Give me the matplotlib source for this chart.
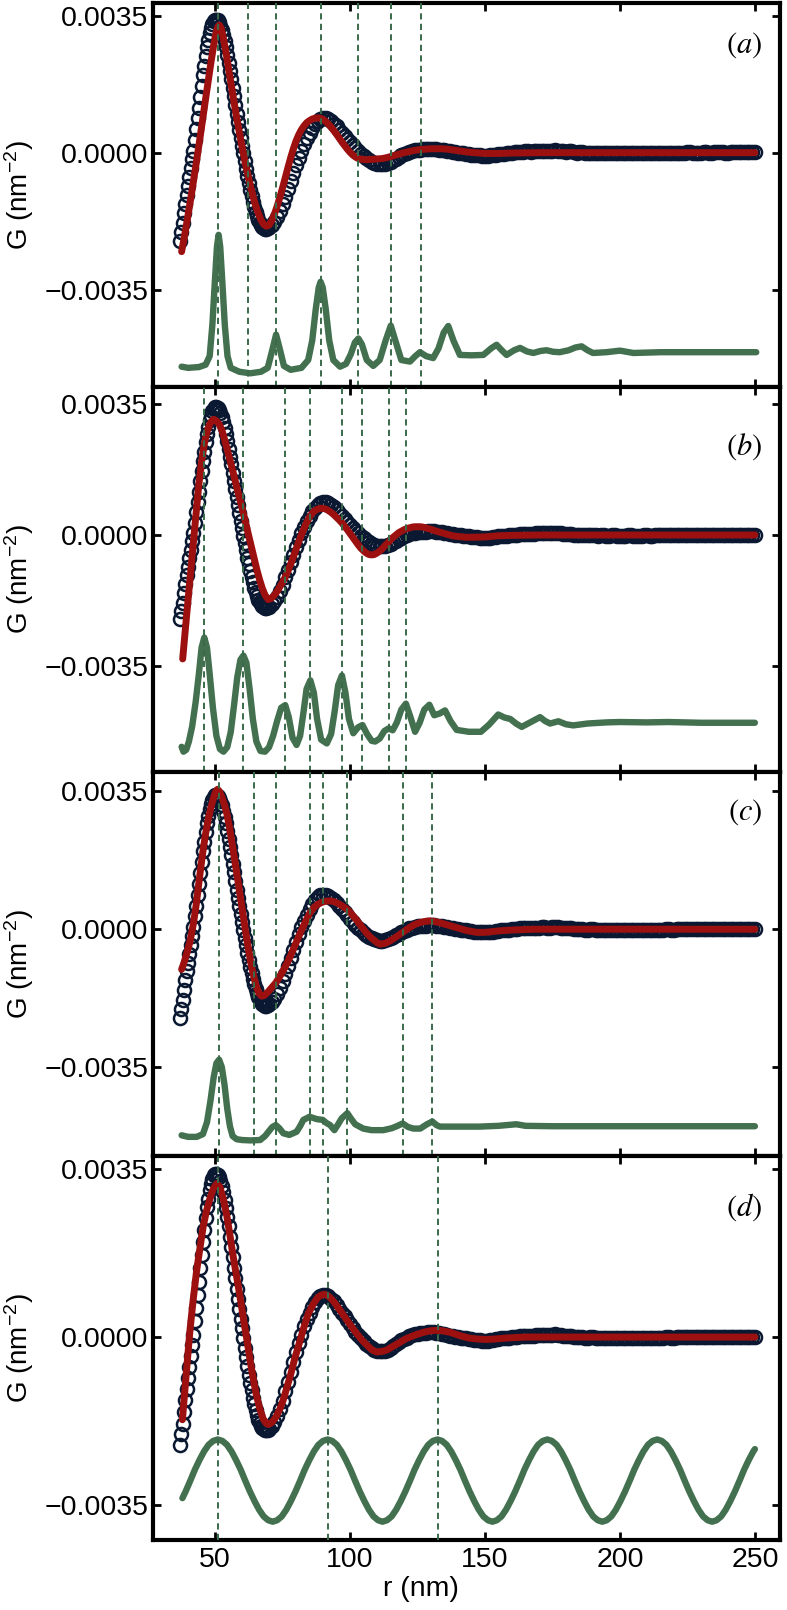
import numpy as np
import matplotlib.pyplot as plt

plt.rcParams["font.family"] = ["Liberation Sans", "DejaVu Sans"]
plt.rcParams["mathtext.fontset"] = "custom"
plt.rcParams["mathtext.rm"] = "Liberation Sans"
plt.rcParams["mathtext.it"] = "Liberation Sans:italic"

NAVY = "#0a1832"
RED = "#9c1010"
GREEN = "#43704f"
DASH = "#3a6a4a"
SCALE = 1e-3  # values below are in units of 1e-3 nm^-2

# measured G(r), same in all four panels
R_DATA = np.concatenate([np.arange(37.0, 70.01, 0.5),
                         np.arange(71.0, 250.01, 1.0)])
G_DATA = [
    -2.25, -2.02, -1.80, -1.55, -1.30, -1.07, -0.85, -0.62, -0.40, -0.17,
    0.05, 0.33, 0.60, 0.88, 1.15, 1.43, 1.70, 1.98, 2.22, 2.47,
    2.70, 2.88, 3.05, 3.18, 3.29, 3.36, 3.40, 3.40, 3.38, 3.33,
    3.25, 3.14, 3.01, 2.86, 2.69, 2.50, 2.30, 2.09, 1.88, 1.66,
    1.44, 1.22, 1.00, 0.79, 0.58, 0.38, 0.18, -0.02, -0.22, -0.41,
    -0.60, -0.78, -0.95, -1.11, -1.26, -1.40, -1.52, -1.63, -1.72, -1.79,
    -1.85, -1.89, -1.92, -1.94, -1.94, -1.93, -1.91,
    # 71 .. 140
    -1.85, -1.76, -1.64, -1.49, -1.32, -1.13, -0.93, -0.72, -0.52, -0.32,
    -0.13, 0.05, 0.22, 0.37, 0.51, 0.63, 0.73, 0.81, 0.86, 0.88,
    0.88, 0.85, 0.80, 0.74, 0.67, 0.59, 0.51, 0.43, 0.35, 0.27,
    0.19, 0.11, 0.04, -0.03, -0.09, -0.14, -0.19, -0.23, -0.26, -0.28,
    -0.29, -0.29, -0.28, -0.26, -0.23, -0.19, -0.15, -0.11, -0.07, -0.04,
    -0.01, 0.02, 0.04, 0.06, 0.07, 0.08, 0.09, 0.09, 0.10, 0.10,
    0.10, 0.09, 0.08, 0.07, 0.06, 0.05, 0.03, 0.02, 0.01, 0.00,
    # 141 .. 250
    -0.01, -0.02, -0.03, -0.04, -0.05, -0.06, -0.06, -0.07, -0.08, -0.08,
    -0.08, -0.07, -0.06, -0.05, -0.04, -0.03, -0.03, -0.02, -0.01, 0.00,
    0.01, 0.01, 0.02, 0.02, 0.03, 0.03, 0.02, 0.03, 0.04, 0.04,
    0.05, 0.05, 0.04, 0.04, 0.05, 0.06, 0.05, 0.04, 0.03, 0.02,
    0.03, 0.03, 0.01, 0.00, 0.01, 0.01, -0.01, -0.01, 0.00, 0.00,
    -0.01, -0.02, -0.01, -0.01, -0.02, -0.02, -0.01, -0.01, -0.02, -0.02,
    -0.02, -0.02, -0.01, -0.01, -0.02, -0.02, -0.02, -0.02, -0.01, -0.01,
    -0.02, -0.02, -0.01, -0.01, -0.01, -0.01, 0.00, 0.00, -0.01, -0.01,
    0.00, 0.00, 0.00, 0.00, 0.01, 0.01, 0.00, 0.00, 0.00, 0.00,
    0.01, 0.01, 0.00, 0.00, 0.01, 0.01, 0.01, 0.01, 0.00, 0.00,
    0.01, 0.01, 0.01, 0.01, 0.01, 0.01, 0.01, 0.01, 0.01, 0.01,
]

# fitted curves (r, G)
FIT_A = [
    (37.6, -2.53), (38.5, -2.20), (39.5, -1.80), (40.5, -1.38), (41.5, -0.95),
    (42.5, -0.50), (43.5, -0.05), (44.5, 0.42), (45.5, 0.90), (46.5, 1.38),
    (47.5, 1.85), (48.5, 2.32), (49.5, 2.75), (50.3, 3.05), (51.0, 3.22),
    (51.6, 3.26), (52.3, 3.18), (53.0, 2.95), (54.0, 2.58), (55.0, 2.15),
    (56.0, 1.72), (57.0, 1.30), (58.0, 0.90), (59.0, 0.52), (60.0, 0.15),
    (61.0, -0.20), (62.0, -0.52), (63.0, -0.82), (64.0, -1.10), (65.0, -1.35),
    (66.0, -1.55), (67.0, -1.72), (68.0, -1.83), (69.0, -1.88), (70.0, -1.85),
    (71.0, -1.74), (72.0, -1.57), (73.0, -1.37), (74.0, -1.14), (75.0, -0.90),
    (76.0, -0.64), (77.0, -0.38), (78.0, -0.13), (79.0, 0.10), (80.0, 0.30),
    (81.0, 0.46), (82.0, 0.59), (83.0, 0.69), (84.0, 0.77), (85.0, 0.82),
    (86.0, 0.86), (87.0, 0.88), (88.0, 0.89), (89.0, 0.88), (90.0, 0.85),
    (91.0, 0.80), (92.0, 0.73), (93.0, 0.65), (94.0, 0.56), (95.0, 0.47),
    (96.0, 0.37), (97.0, 0.27), (98.0, 0.18), (99.0, 0.09), (100.0, 0.01),
    (101.0, -0.06), (102.0, -0.11), (103.0, -0.15), (104.5, -0.17), (106.0, -0.18),
    (108.0, -0.17), (110.0, -0.16), (112.0, -0.15), (114.0, -0.12), (116.0, -0.08),
    (118.0, -0.04), (120.0, 0.00), (122.0, 0.03), (124.0, 0.06), (126.0, 0.08),
    (128.0, 0.09), (130.0, 0.10), (132.0, 0.10), (134.0, 0.10), (136.0, 0.09),
    (138.0, 0.07), (140.0, 0.05), (143.0, 0.02), (146.0, 0.00), (150.0, -0.02),
    (155.0, -0.02), (160.0, -0.01), (170.0, 0.00), (200.0, 0.00), (250.0, 0.00),
]
FIT_B = [
    (38.0, -3.30), (39.0, -2.50), (40.0, -1.72), (41.0, -0.95), (42.0, -0.17),
    (43.0, 0.60), (44.0, 1.35), (45.0, 1.95), (46.0, 2.42), (47.0, 2.75),
    (48.0, 2.95), (49.0, 3.06), (49.6, 3.08), (50.5, 3.04), (51.5, 2.95),
    (52.5, 2.80), (53.5, 2.55), (54.5, 2.28), (55.5, 2.00), (56.5, 1.72),
    (57.5, 1.43), (58.5, 1.14), (59.5, 0.86), (60.5, 0.57), (61.5, 0.27),
    (62.5, -0.03), (63.5, -0.33), (64.5, -0.63), (65.5, -0.93), (66.5, -1.19),
    (67.5, -1.42), (68.5, -1.60), (69.7, -1.72), (70.8, -1.69), (72.0, -1.60),
    (73.0, -1.50), (74.0, -1.38), (75.0, -1.26), (76.0, -1.12), (77.0, -0.96),
    (78.0, -0.78), (79.0, -0.58), (80.0, -0.38), (81.0, -0.18), (82.0, 0.01),
    (83.0, 0.18), (84.0, 0.34), (85.0, 0.48), (86.0, 0.58), (87.0, 0.65),
    (88.0, 0.69), (89.0, 0.71), (90.0, 0.71), (91.0, 0.69), (92.0, 0.65),
    (93.0, 0.60), (94.0, 0.54), (95.0, 0.47), (96.0, 0.40), (97.0, 0.32),
    (98.0, 0.23), (99.0, 0.14), (100.0, 0.04), (101.0, -0.06), (102.0, -0.16),
    (103.0, -0.26), (104.0, -0.35), (105.0, -0.42), (106.0, -0.48), (107.0, -0.52),
    (108.0, -0.53), (109.0, -0.52), (110.0, -0.48), (111.0, -0.43), (112.0, -0.36),
    (113.0, -0.28), (114.0, -0.21), (115.0, -0.13), (116.0, -0.06), (117.0, 0.00),
    (118.0, 0.06), (119.0, 0.10), (120.0, 0.14), (121.0, 0.17), (122.0, 0.19),
    (123.0, 0.21), (124.0, 0.22), (125.0, 0.22), (126.0, 0.22), (127.0, 0.21),
    (128.0, 0.19), (130.0, 0.15), (132.0, 0.10), (134.0, 0.06), (136.0, 0.02),
    (138.0, -0.02), (140.0, -0.04), (143.0, -0.06), (146.0, -0.06), (150.0, -0.05),
    (155.0, -0.02), (160.0, -0.01), (170.0, 0.00), (200.0, 0.00), (250.0, 0.00),
]
FIT_C = [
    (37.6, -1.02), (38.5, -0.85), (39.5, -0.62), (40.7, -0.32), (42.0, 0.15),
    (43.0, 0.62), (44.4, 1.40), (45.5, 1.98), (46.5, 2.43), (47.5, 2.80),
    (48.5, 3.10), (49.5, 3.35), (50.3, 3.50), (50.9, 3.55), (51.6, 3.50),
    (52.5, 3.35), (53.5, 3.15), (54.3, 2.95), (55.3, 2.60), (56.3, 2.18),
    (57.3, 1.75), (58.3, 1.30), (59.3, 0.85), (60.3, 0.40), (61.3, -0.05),
    (62.3, -0.48), (63.3, -0.87), (64.4, -1.22), (65.4, -1.48), (66.4, -1.64),
    (67.3, -1.70), (68.3, -1.68), (69.5, -1.60), (70.5, -1.52), (71.5, -1.44),
    (72.5, -1.36), (73.5, -1.25), (75.0, -1.08), (77.0, -0.82), (79.0, -0.51),
    (81.0, -0.18), (83.0, 0.12), (85.0, 0.40), (86.5, 0.54), (88.0, 0.63),
    (89.5, 0.68), (91.0, 0.71), (92.6, 0.72), (94.0, 0.70), (96.0, 0.64),
    (98.0, 0.55), (99.0, 0.50), (100.0, 0.43), (102.0, 0.27), (104.0, 0.09),
    (105.0, 0.00), (106.0, -0.09), (108.0, -0.23), (110.0, -0.34), (111.1, -0.38),
    (113.0, -0.36), (115.0, -0.29), (117.0, -0.20), (119.5, -0.08), (122.0, 0.04),
    (124.0, 0.12), (126.0, 0.17), (128.0, 0.20), (129.6, 0.21), (131.0, 0.20),
    (133.0, 0.17), (135.0, 0.13), (137.0, 0.09), (140.0, 0.03), (143.0, -0.03),
    (146.9, -0.08), (150.0, -0.08), (155.6, -0.04), (160.0, -0.02), (168.0, 0.00),
    (200.0, 0.00), (250.0, 0.00),
]
FIT_D = [
    (37.9, -1.72), (38.9, -1.05), (39.8, -0.45), (40.7, 0.14), (41.9, 0.78),
    (43.1, 1.35), (44.4, 1.85), (45.6, 2.30), (46.8, 2.62), (48.1, 2.88),
    (49.3, 3.08), (50.6, 3.19), (51.8, 3.12), (53.0, 2.88), (54.3, 2.54),
    (55.5, 2.12), (56.7, 1.68), (58.0, 1.25), (59.3, 0.82), (60.5, 0.38),
    (61.8, -0.06), (63.0, -0.49), (64.2, -0.89), (65.4, -1.23), (66.6, -1.50),
    (67.8, -1.70), (69.0, -1.80), (69.8, -1.82), (71.0, -1.78), (72.5, -1.67),
    (74.0, -1.50), (75.3, -1.30), (76.5, -1.07), (78.0, -0.78), (79.5, -0.45),
    (81.5, -0.07), (83.0, 0.22), (84.5, 0.48), (86.4, 0.69), (88.0, 0.82),
    (89.2, 0.87), (90.4, 0.89), (91.8, 0.86), (93.2, 0.79), (94.6, 0.69),
    (96.5, 0.54), (98.5, 0.38), (100.5, 0.22), (102.5, 0.07), (104.5, -0.07),
    (106.5, -0.18), (108.2, -0.27), (109.9, -0.31), (111.8, -0.30), (113.6, -0.27),
    (116.0, -0.19), (118.5, -0.11), (120.5, -0.04), (122.2, 0.00), (125.0, 0.06),
    (128.0, 0.11), (130.0, 0.13), (132.1, 0.14), (134.0, 0.13), (137.0, 0.10),
    (140.7, 0.03), (144.0, -0.02), (147.0, -0.04), (150.6, -0.05), (154.0, -0.04),
    (158.0, -0.02), (165.0, 0.00), (200.0, 0.00), (250.0, 0.00),
]

# lower (green) distribution curves (r, value)
DIST_A = [
    (37.6, -5.47), (40.0, -5.50), (44.0, -5.48), (46.5, -5.42), (48.0, -5.20),
    (49.0, -4.40), (50.0, -3.20), (50.7, -2.40), (51.3, -2.10), (51.9, -2.40),
    (52.6, -3.20), (53.6, -4.40), (54.6, -5.20), (55.8, -5.50), (59.0, -5.60),
    (63.0, -5.64), (67.0, -5.60), (69.5, -5.50), (71.0, -5.10), (72.6, -4.65),
    (74.1, -5.05), (75.5, -5.45), (78.0, -5.55), (82.0, -5.50), (84.5, -5.30),
    (86.0, -4.80), (87.3, -4.00), (88.4, -3.45), (89.1, -3.30), (89.9, -3.45),
    (91.0, -4.00), (92.3, -4.80), (93.8, -5.30), (96.3, -5.47), (98.5, -5.40),
    (100.3, -5.15), (101.8, -4.85), (103.1, -4.75), (104.4, -4.90), (106.2, -5.30),
    (108.6, -5.45), (111.0, -5.30), (113.2, -4.80), (115.1, -4.42), (117.0, -4.85),
    (119.0, -5.30), (122.2, -5.34), (124.2, -5.20), (125.9, -5.10), (128.2, -5.20),
    (130.8, -5.25), (132.8, -5.00), (134.7, -4.60), (136.4, -4.43), (138.3, -4.80),
    (140.7, -5.17), (145.0, -5.18), (149.4, -5.17), (152.3, -5.00), (154.3, -4.91),
    (156.2, -5.05), (158.0, -5.17), (160.8, -5.05), (163.0, -4.99), (165.5, -5.08),
    (167.9, -5.12), (170.5, -5.07), (172.8, -5.05), (175.3, -5.09), (177.7, -5.10),
    (181.0, -5.05), (183.5, -4.98), (185.8, -4.95), (188.0, -5.05), (190.0, -5.12),
    (195.0, -5.10), (200.0, -5.06), (205.0, -5.12), (215.0, -5.10), (230.0, -5.10),
    (250.5, -5.10),
]
DIST_B = [
    (37.6, -5.64), (38.3, -5.77), (39.3, -5.72), (40.3, -5.50), (41.5, -5.10),
    (42.8, -4.45), (44.0, -3.70), (45.0, -3.00), (46.0, -2.73), (47.0, -3.00),
    (48.0, -3.70), (49.2, -4.60), (50.5, -5.35), (51.8, -5.70), (53.1, -5.77),
    (54.5, -5.65), (55.8, -5.25), (57.0, -4.55), (58.2, -3.80), (59.4, -3.32),
    (60.5, -3.21), (61.6, -3.40), (62.8, -4.10), (64.0, -4.90), (65.3, -5.50),
    (66.8, -5.75), (68.5, -5.77), (70.0, -5.65), (71.5, -5.35), (73.0, -4.95),
    (74.5, -4.60), (76.0, -4.53), (77.3, -4.85), (78.7, -5.40), (80.2, -5.59),
    (81.5, -5.35), (82.7, -4.75), (83.9, -4.10), (85.3, -3.87), (86.6, -4.20),
    (87.8, -4.90), (89.3, -5.45), (91.4, -5.55), (93.0, -5.30), (94.3, -4.70),
    (95.6, -4.00), (97.0, -3.74), (98.3, -4.20), (99.6, -4.90), (101.2, -5.28),
    (103.0, -5.12), (104.6, -5.06), (106.3, -5.30), (108.0, -5.48), (109.3, -5.50),
    (111.0, -5.42), (112.7, -5.22), (114.3, -5.15), (115.8, -5.20), (117.3, -5.00),
    (119.0, -4.65), (120.7, -4.49), (122.4, -4.85), (124.1, -5.24), (125.8, -5.00),
    (127.5, -4.65), (129.4, -4.52), (131.2, -4.80), (133.3, -4.75), (135.2, -4.67),
    (137.2, -4.95), (139.5, -5.19), (144.0, -5.24), (148.5, -5.24), (151.5, -5.05),
    (154.9, -4.78), (157.2, -4.86), (159.4, -4.90), (161.5, -5.02), (163.6, -5.11),
    (167.0, -4.98), (170.4, -4.85), (172.2, -4.95), (174.1, -5.02), (177.2, -4.96),
    (180.0, -5.04), (182.7, -5.07), (188.0, -5.02), (195.0, -4.99), (200.0, -4.98),
    (210.0, -4.99), (218.0, -4.98), (230.0, -5.00), (250.0, -5.00),
]
DIST_C = [
    (37.6, -5.23), (40.0, -5.27), (43.2, -5.27), (45.5, -5.20), (47.0, -4.90),
    (48.3, -4.35), (49.5, -3.75), (50.5, -3.40), (51.5, -3.31), (52.5, -3.50),
    (53.5, -3.95), (54.5, -4.55), (55.5, -5.00), (56.5, -5.25), (58.0, -5.33),
    (60.0, -5.35), (63.0, -5.36), (66.7, -5.35), (68.5, -5.25), (70.0, -5.12),
    (71.2, -5.02), (72.5, -4.97), (73.8, -5.05), (75.3, -5.18), (77.5, -5.22),
    (80.2, -5.14), (81.5, -5.00), (82.7, -4.84), (85.0, -4.76), (87.7, -4.82),
    (89.9, -4.84), (91.3, -4.92), (92.6, -4.97), (94.2, -5.10), (95.6, -4.95),
    (96.9, -4.80), (99.0, -4.67), (100.5, -4.82), (101.9, -4.95), (104.9, -5.06),
    (108.0, -5.10), (112.3, -5.10), (115.5, -5.05), (117.3, -5.00), (119.5, -4.93),
    (121.5, -5.02), (123.5, -5.06), (126.0, -5.06), (128.5, -4.95), (130.5, -4.88),
    (132.0, -4.97), (133.3, -5.01), (140.0, -5.01), (148.0, -5.01), (155.0, -4.99),
    (161.6, -4.95), (165.0, -4.99), (175.0, -5.00), (200.0, -5.00), (250.0, -5.00),
]
DIST_D = [
    (37.9, -3.35), (39.1, -3.21), (40.8, -2.99), (42.5, -2.76), (44.2, -2.56),
    (45.9, -2.38), (47.6, -2.24), (49.3, -2.16),
    (51.0, -2.13), (52.7, -2.16), (54.4, -2.24), (56.1, -2.38), (57.8, -2.56), (59.5, -2.76),
    (61.2, -2.99), (62.9, -3.21), (64.6, -3.41), (66.3, -3.59), (68.0, -3.73), (69.7, -3.81),
    (71.35, -3.84), (73.0, -3.81), (74.7, -3.73), (76.4, -3.59), (78.1, -3.41), (79.8, -3.21),
    (81.5, -2.99), (83.2, -2.76), (84.9, -2.56), (86.6, -2.38), (88.3, -2.24), (90.0, -2.16),
    (91.7, -2.13), (93.4, -2.16), (95.1, -2.24), (96.8, -2.38), (98.5, -2.56), (100.2, -2.76),
    (101.9, -2.99), (103.6, -3.21), (105.3, -3.41), (107.0, -3.59), (108.7, -3.73), (110.4, -3.81),
    (112.05, -3.84), (113.7, -3.81), (115.4, -3.73), (117.1, -3.59), (118.8, -3.41), (120.5, -3.21),
    (122.2, -2.99), (123.9, -2.76), (125.6, -2.56), (127.3, -2.38), (129.0, -2.24), (130.7, -2.16),
    (132.4, -2.13), (134.1, -2.16), (135.8, -2.24), (137.5, -2.38), (139.2, -2.56), (140.9, -2.76),
    (142.6, -2.99), (144.3, -3.21), (146.0, -3.41), (147.7, -3.59), (149.4, -3.73), (151.1, -3.81),
    (152.75, -3.84), (154.4, -3.81), (156.1, -3.73), (157.8, -3.59), (159.5, -3.41), (161.2, -3.21),
    (162.9, -2.99), (164.6, -2.76), (166.3, -2.56), (168.0, -2.38), (169.7, -2.24), (171.4, -2.16),
    (173.1, -2.13), (174.8, -2.16), (176.5, -2.24), (178.2, -2.38), (179.9, -2.56), (181.6, -2.76),
    (183.3, -2.99), (185.0, -3.21), (186.7, -3.41), (188.4, -3.59), (190.1, -3.73), (191.8, -3.81),
    (193.45, -3.84), (195.1, -3.81), (196.8, -3.73), (198.5, -3.59), (200.2, -3.41), (201.9, -3.21),
    (203.6, -2.99), (205.3, -2.76), (207.0, -2.56), (208.7, -2.38), (210.4, -2.24), (212.1, -2.16),
    (213.8, -2.13), (215.5, -2.16), (217.2, -2.24), (218.9, -2.38), (220.6, -2.56), (222.3, -2.76),
    (224.0, -2.99), (225.7, -3.21), (227.4, -3.41), (229.1, -3.59), (230.8, -3.73), (232.5, -3.81),
    (234.15, -3.84), (235.8, -3.81), (237.5, -3.73), (239.2, -3.59), (240.9, -3.41), (242.6, -3.21),
    (244.3, -2.99), (246.0, -2.76), (247.7, -2.56), (249.4, -2.38), (250.0, -2.33),
]

LINES_A = [51.2, 62.3, 72.6, 89.1, 103.1, 115.1, 126.2]
LINES_B = [46.0, 60.5, 76.0, 85.3, 97.0, 104.6, 114.3, 120.7]
LINES_C = [51.5, 64.4, 72.5, 85.2, 89.9, 99.0, 119.5, 130.5]
LINES_D = [51.0, 92.0, 132.7]

YLIMS = [(-6.00, 3.82), (-6.30, 3.93), (-5.75, 4.00), (-4.22, 3.77)]
PANEL_LABELS = ["a", "b", "c", "d"]
LABEL_Y = [0.930, 0.886, 0.935, 0.907]

YTICKS = [-3.5, 0.0, 3.5]
YTICKLABELS = ["\u22120.0035", "0.0000", "0.0035"]
XTICKS = [50, 100, 150, 200, 250]


def draw_panel(ax, fit, dist, lines, ylim, label, label_y):
    g = np.asarray(G_DATA) * SCALE
    ax.plot(R_DATA, g, "o", mfc="none", mec=NAVY, ms=9.4, mew=1.8, zorder=2)

    fr, fv = zip(*fit)
    ax.plot(fr, np.asarray(fv) * SCALE, color=RED, lw=5, solid_capstyle="round",
            solid_joinstyle="round", zorder=3)

    dr, dv = zip(*dist)
    ax.plot(dr, np.asarray(dv) * SCALE, color=GREEN, lw=4.6, solid_capstyle="round",
            solid_joinstyle="round", zorder=3)

    for r in lines:
        ax.axvline(r, color=DASH, lw=1.4, ls=(0, (3.2, 2.2)), zorder=4)

    ax.set_ylim(ylim[0] * SCALE, ylim[1] * SCALE)
    ax.set_yticks([t * SCALE for t in YTICKS])
    ax.set_yticklabels(YTICKLABELS)
    ax.tick_params(direction="in", top=True, right=True, length=6, width=2,
                   labelsize=20.5, pad=3.5)
    for s in ax.spines.values():
        s.set_linewidth(3)

    ax.set_ylabel("G (nm$^{-2}$)", fontsize=20)
    ax.yaxis.set_label_coords(-0.186, 0.5)

    ax.text(0.972, label_y, r"$(\mathit{%s})$" % label, transform=ax.transAxes,
            ha="right", va="top", fontsize=22, math_fontfamily="stix")


def main():
    fig, axes = plt.subplots(4, 1, figsize=(7.87, 16.10), dpi=100, sharex=True)
    fig.subplots_adjust(left=0.1944, right=0.9911, bottom=0.0435, top=0.998, hspace=0)

    fits = [FIT_A, FIT_B, FIT_C, FIT_D]
    dists = [DIST_A, DIST_B, DIST_C, DIST_D]
    lines = [LINES_A, LINES_B, LINES_C, LINES_D]

    for i, ax in enumerate(axes):
        draw_panel(ax, fits[i], dists[i], lines[i], YLIMS[i], PANEL_LABELS[i], LABEL_Y[i])

    axes[-1].set_xlim(27.0, 259.3)
    axes[-1].set_xticks(XTICKS)
    axes[-1].tick_params(axis="x", pad=5)
    axes[-1].set_xlabel("r (nm)", fontsize=20.5)
    axes[-1].xaxis.set_label_coords(0.427, -0.095)

    fig.savefig("out.png", dpi=100)
    plt.close(fig)


if __name__ == "__main__":
    main()
